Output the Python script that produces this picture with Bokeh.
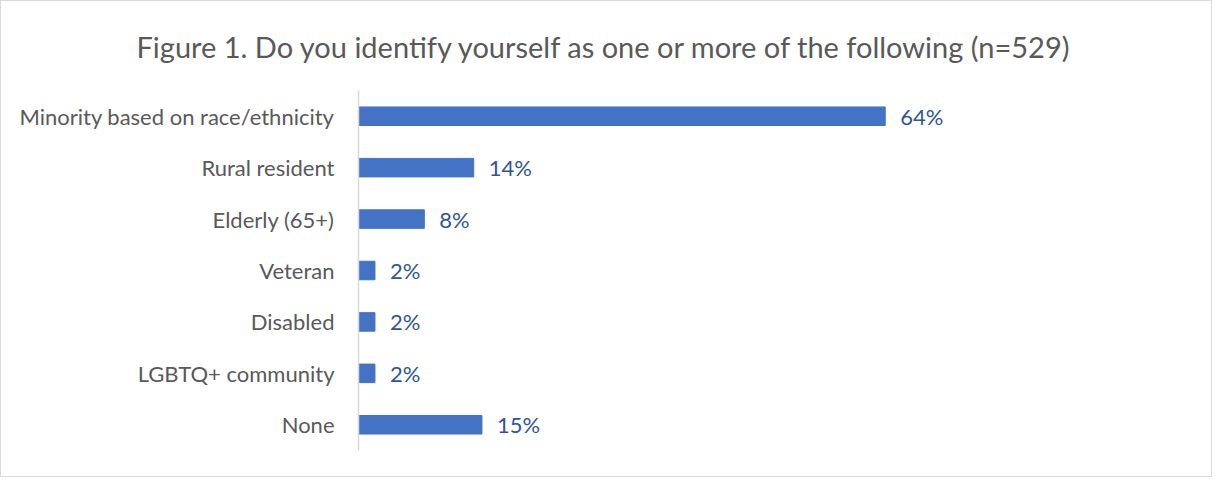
from bokeh.plotting import figure
from bokeh.models import Title, FactorRange
from bokeh.core.properties import value
from bokeh.embed import file_html
from bokeh.resources import INLINE

categories = ["Minority based on race/ethnicity", "Rural resident", "Elderly (65+)",
              "Veteran", "Disabled", "LGBTQ+ community", "None"]
percents = [64, 14, 8, 2, 2, 2, 15]
labels = ["64%", "14%", "8%", "2%", "2%", "2%", "15%"]
title_text = "Figure 1. Do you identify yourself as one or more of the following (n=529)"

FONT = "Lato"
W, H = 1212, 477
left, right, top, bottom = 357, 40, 89, 28
frame_w = W - left - right
x_end = frame_w / 8.23

p = figure(width=W, height=H, output_backend="svg", toolbar_location=None,
           y_range=FactorRange(*reversed(categories), range_padding=0),
           x_range=(0, x_end),
           min_border_left=left, min_border_right=right,
           min_border_top=top, min_border_bottom=bottom)
p.styles = {"border": "1px solid #d9d9d9"}

t = Title(text=title_text, align="left", offset=135 - left, standoff=50,
          vertical_align="top",
          text_font=FONT, text_font_size="29px", text_font_style="normal",
          text_color="#595959")
p.add_layout(t, "above")

p.hbar(y=categories, right=percents, left=0, height=0.36, color="#4472C4")
p.text(x=percents, y=categories, text=labels, x_offset=15, text_baseline="middle",
       text_font=value(FONT), text_font_size="22px", text_color="#2F5597")

p.xaxis.visible = False
p.xgrid.visible = False
p.ygrid.visible = False
p.outline_line_color = None
ax = p.yaxis[0]
ax.axis_line_color = "#d9d9d9"
ax.axis_line_width = 1.5
ax.major_tick_line_color = None
ax.minor_tick_line_color = None
ax.major_tick_out = 0
ax.major_label_standoff = 24
ax.major_label_text_font = FONT
ax.major_label_text_font_size = "22px"
ax.major_label_text_color = "#595959"

open("out.html", "w").write(file_html(p, INLINE))
